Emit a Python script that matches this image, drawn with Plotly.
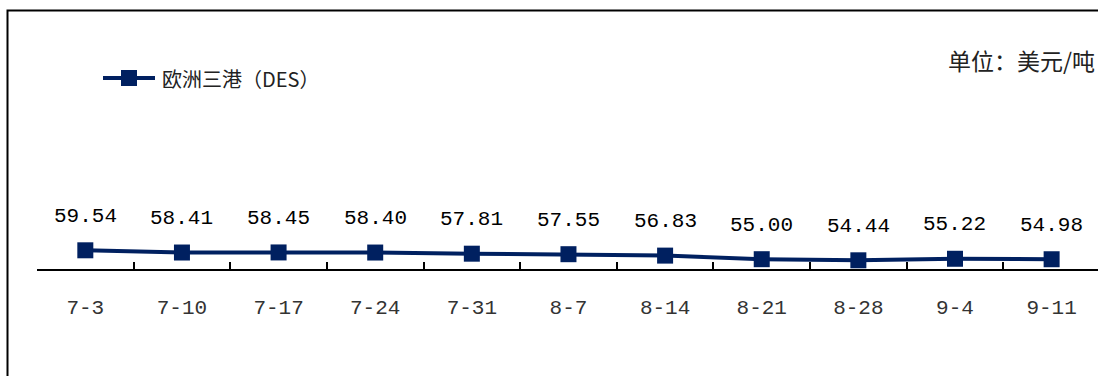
import plotly.graph_objects as go

categories = ["7-3", "7-10", "7-17", "7-24", "7-31", "8-7", "8-14", "8-21", "8-28", "9-4", "9-11"]
values = [59.54, 58.41, 58.45, 58.40, 57.81, 57.55, 56.83, 55.00, 54.44, 55.22, 54.98]
series_name = "欧洲三港（DES）"
unit_text = "单位：美元/吨"

W, H = 1098, 376
L, R, T, B = 37, 0, 10, 107
pw = W - L - R
ph = H - T - B

def px_x(p):
    return (p - L) / pw

def px_y(p):
    return (H - B - p) / ph

navy = "#002060"

fig = go.Figure()
fig.add_trace(go.Scatter(
    x=categories, y=values, name=series_name,
    mode="lines+markers", showlegend=False,
    line=dict(color=navy, width=4),
    marker=dict(symbol="square", size=16, color=navy),
))

for c, v in zip(categories, values):
    fig.add_annotation(
        x=c, y=v, text=f"{v:.2f}", showarrow=False,
        yshift=34, yanchor="middle", xanchor="center",
        font=dict(family="Liberation Mono", size=21, color="#000000"),
    )

# legend drawn manually (long line symbol as in reference)
ly = px_y(78)
fig.add_shape(type="line", xref="paper", yref="paper",
              x0=px_x(103), x1=px_x(155), y0=ly, y1=ly,
              line=dict(color=navy, width=4))
fig.add_shape(type="rect", xref="paper", yref="paper",
              x0=px_x(121), x1=px_x(137), y0=px_y(86), y1=px_y(70),
              line=dict(color=navy, width=0), fillcolor=navy)
fig.add_annotation(
    xref="paper", yref="paper", x=px_x(160), y=ly,
    text=series_name, showarrow=False, xanchor="left", yanchor="middle",
    font=dict(family="Noto Sans CJK SC", size=20, color="#222222"),
)

fig.add_annotation(
    xref="paper", yref="paper", x=px_x(946), y=px_y(60),
    text=unit_text, showarrow=False, xanchor="left", yanchor="middle",
    font=dict(family="Noto Sans CJK SC", size=23, color="#222222"),
)

fig.add_shape(
    type="rect", xref="paper", yref="paper",
    x0=px_x(7.5), x1=1.05, y0=-0.6, y1=px_y(10.5),
    line=dict(color="#000000", width=2), fillcolor="rgba(0,0,0,0)",
)

fig.update_layout(
    width=W, height=H,
    margin=dict(l=L, r=R, t=T, b=B, pad=0),
    paper_bgcolor="white", plot_bgcolor="white",
    showlegend=False,
    xaxis=dict(
        type="category", range=[-0.5, 10.48],
        showline=True, linecolor="#000000", linewidth=2,
        ticks="inside", tickson="boundaries", ticklen=7, tickwidth=2, tickcolor="#000000",
        showgrid=False, zeroline=False,
        ticklabelstandoff=18,
        tickfont=dict(family="Liberation Mono", size=21, color="#333333"),
    ),
    yaxis=dict(range=[50, 50 + ph / 1.96], visible=False, showgrid=False),
)

fig.write_html("out.html")
